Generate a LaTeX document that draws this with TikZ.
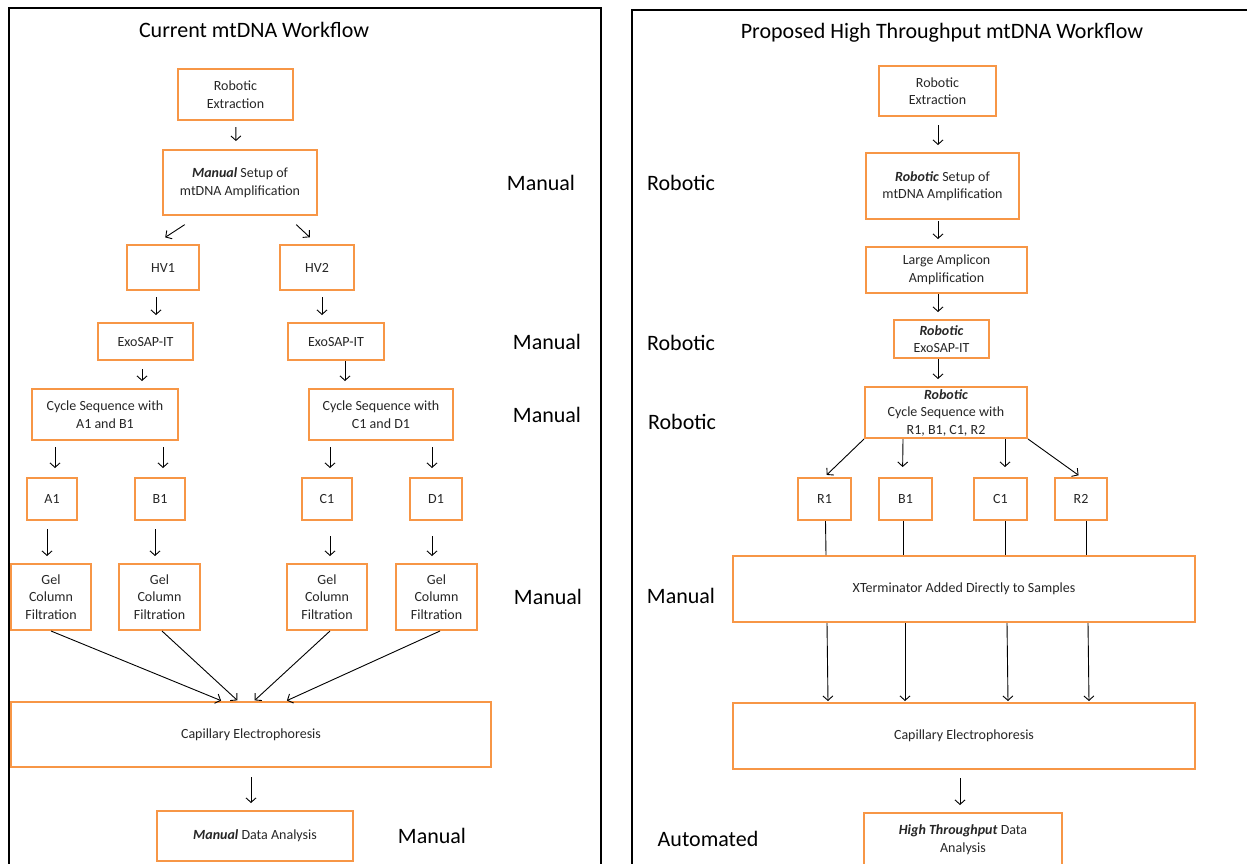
\documentclass[tikz,border=0pt]{standalone}
\usepackage{fontspec}
\setmainfont{Carlito}
\usetikzlibrary{arrows.meta}
\definecolor{boxorange}{RGB}{247,150,70}

\begin{document}
\begin{tikzpicture}[x=1pt, y=-1pt,
    box/.style={draw=boxorange, line width=2pt, align=center, inner sep=0pt,
        font=\fontsize{14}{17.5}\selectfont, text=black!85},
    arr/.style={->, line width=0.9pt, >={Straight Barb[length=4.5pt,width=10pt]},
        shorten <=6pt, shorten >=7pt},
    link/.style={line width=0.9pt},
    side/.style={font=\fontsize{22}{26}\selectfont},
    heading/.style={font=\fontsize{22}{26}\selectfont}]

    \useasboundingbox (0, 0) rectangle (1247, 863);
    \clip (0, 0) rectangle (1247, 863);

    % Dessiner les cadres
    \draw[line width=1.5pt] (9, 880) -- (9, 8) -- (601, 8) -- (601, 880);
    \draw[line width=1.5pt] (632, 880) -- (632, 10) -- (1260, 10);

    \node[heading] (titleL) at (254, 30) {Current mtDNA Workflow};
    \node[heading] (titleR) at (942, 33) {Proposed High Throughput mtDNA Workflow};

    % Flux actuel
    \node[box, minimum width=115, minimum height=51] (ext) at (235.5, 94.5) {Robotic\\Extraction};
    \node[box, minimum width=154, minimum height=65] (setup) at (240, 182.5) {\textbf{\textit{Manual}} Setup of\\mtDNA Amplification};
    \node[box, minimum width=72, minimum height=45] (hv1) at (163, 267.5) {HV1};
    \node[box, minimum width=74, minimum height=45] (hv2) at (317, 267.5) {HV2};
    \node[box, minimum width=95, minimum height=37] (exoL) at (145.5, 341.5) {ExoSAP-IT};
    \node[box, minimum width=96, minimum height=37] (exoR) at (336, 341.5) {ExoSAP-IT};
    \node[box, minimum width=146, minimum height=51] (cycL) at (105, 414.5) {Cycle Sequence with\\A1 and B1};
    \node[box, minimum width=144, minimum height=51] (cycR) at (381, 414.5) {Cycle Sequence with\\C1 and D1};
    \node[box, minimum width=50, minimum height=42] (a1) at (52, 499) {A1};
    \node[box, minimum width=50, minimum height=42] (b1) at (160, 499) {B1};
    \node[box, minimum width=50, minimum height=42] (c1) at (327, 499) {C1};
    \node[box, minimum width=52, minimum height=42] (d1) at (436, 499) {D1};
    \node[box, minimum width=80, minimum height=66] (gelA) at (51, 597) {Gel\\Column\\Filtration};
    \node[box, minimum width=81, minimum height=66] (gelB) at (159.5, 597) {Gel\\Column\\Filtration};
    \node[box, minimum width=80, minimum height=66] (gelC) at (327, 597) {Gel\\Column\\Filtration};
    \node[box, minimum width=81, minimum height=66] (gelD) at (436.5, 597) {Gel\\Column\\Filtration};
    \node[box, minimum width=480, minimum height=65] (ceL) at (251, 734.5) {Capillary Electrophoresis};
    \node[box, minimum width=196, minimum height=50] (dataL) at (255, 836) {\textbf{\textit{Manual}} Data Analysis};

    \node[side] (manA) at (541, 183) {Manual};
    \node[side] (manB) at (547, 342) {Manual};
    \node[side] (manC) at (547, 415) {Manual};
    \node[side] (manD) at (548, 597) {Manual};
    \node[side] (manE) at (432, 836) {Manual};

    \draw[arr, shorten >=8pt] (ext) -- ([xshift=-4]setup.north);
    \draw[arr, shorten <=15.8pt, shorten >=12.2pt] ([xshift=-42]setup.south) -- ([xshift=-8]hv1.north);
    \draw[arr, shorten <=12.7pt, shorten >=9.9pt] ([xshift=47]setup.south) -- (hv2.north);
    \draw[arr] ([xshift=-7]hv1.south) -- ([xshift=10.5]exoL.north);
    \draw[arr] ([xshift=5]hv2.south) -- ([xshift=-14]exoR.north);
    \draw[arr, shorten <=8pt] ([xshift=-3.5]exoL.south) -- ([xshift=37]cycL.north);
    \draw[arr, shorten <=0pt] ([xshift=9]exoR.south) -- ([xshift=-36]cycR.north);
    \draw[arr, shorten >=9pt] ([xshift=-50]cycL.south) -- ([xshift=3]a1.north);
    \draw[arr, shorten >=9pt] ([xshift=58]cycL.south) -- ([xshift=3]b1.north);
    \draw[arr, shorten >=9pt] ([xshift=-51]cycR.south) -- ([xshift=3]c1.north);
    \draw[arr, shorten >=9pt] ([xshift=51]cycR.south) -- ([xshift=-4]d1.north);
    \draw[arr, shorten <=8pt] ([xshift=-5]a1.south) -- ([xshift=-4]gelA.north);
    \draw[arr, shorten <=8pt] ([xshift=-5]b1.south) -- ([xshift=-4.5]gelB.north);
    \draw[arr, shorten <=15pt] ([xshift=3]c1.south) -- ([xshift=3]gelC.north);
    \draw[arr, shorten <=15pt] ([xshift=-4]d1.south) -- ([xshift=-4.5]gelD.north);

    % Fleches vers l'electrophorese
    \draw[arr, shorten <=0pt, shorten >=1pt] (gelA.south) -- ([xshift=-29]ceL.north);
    \draw[arr, shorten <=0pt, shorten >=1pt] ([xshift=2.5]gelB.south) -- ([xshift=-13]ceL.north);
    \draw[arr, shorten <=0pt, shorten >=1pt] ([xshift=3]gelC.south) -- ([xshift=3]ceL.north);
    \draw[arr, shorten <=0pt, shorten >=1pt] ([xshift=3.5]gelD.south) -- ([xshift=35]ceL.north);
    \draw[arr, shorten <=9pt] (ceL.south) -- ([xshift=-4]dataL.north);

    % Flux propose
    \node[box, minimum width=117, minimum height=50] (extR) at (937.5, 91) {Robotic\\Extraction};
    \node[box, minimum width=153, minimum height=66] (setupR) at (942.5, 186) {\textbf{\textit{Robotic}} Setup of\\mtDNA Amplification};
    \node[box, minimum width=161, minimum height=46] (large) at (946.5, 270) {Large Amplicon\\Amplification};
    \node[box, minimum width=95, minimum height=38] (exoP) at (941.5, 339) {\textbf{\textit{Robotic}}\\ExoSAP-IT};
    \node[box, minimum width=162, minimum height=51] (cycP) at (946, 412.5) {\textbf{\textit{Robotic}}\\Cycle Sequence with\\R1, B1, C1, R2};
    \node[box, minimum width=53, minimum height=42] (r1) at (824.5, 499) {R1};
    \node[box, minimum width=53, minimum height=42] (b1R) at (905.5, 499) {B1};
    \node[box, minimum width=53, minimum height=42] (c1R) at (1000.5, 499) {C1};
    \node[box, minimum width=52, minimum height=42] (r2) at (1081, 499) {R2};
    \node[box, minimum width=462, minimum height=66] (xterm) at (964, 589) {XTerminator Added Directly to Samples};
    \node[box, minimum width=462, minimum height=66] (ceR) at (964, 736) {Capillary Electrophoresis};
    \node[box, minimum width=198, minimum height=53] (dataR) at (963, 839.5) {\textbf{\textit{High Throughput}} Data\\Analysis};

    \node[side] (robA) at (681, 183) {Robotic};
    \node[side] (robB) at (681, 343) {Robotic};
    \node[side] (robC) at (682, 422) {Robotic};
    \node[side] (manF) at (681, 596) {Manual};
    \node[side] (auto) at (708, 839) {Automated};

    \draw[arr, shorten <=8pt] ([xshift=0.5]extR.south) -- ([xshift=-4.5]setupR.north);
    \draw[arr, shorten <=1pt] ([xshift=-4.5]setupR.south) -- ([xshift=-8.5]large.north);
    \draw[arr, shorten <=0pt] ([xshift=-8.5]large.south) -- ([xshift=-3.5]exoP.north);
    \draw[arr, shorten <=0pt] ([xshift=-3.5]exoP.south) -- ([xshift=-8]cycP.north);
    \draw[arr, shorten <=0pt, shorten >=3pt] (cycP.south west) -- (r1.north);
    \draw[arr, shorten <=0pt, shorten >=10pt] ([xshift=-43]cycP.south) -- ([xshift=-3]b1R.north);
    \draw[arr, shorten <=0pt, shorten >=10pt] ([xshift=59]cycP.south) -- ([xshift=4.5]c1R.north);
    \draw[arr, shorten <=0pt, shorten >=3pt] (cycP.south east) -- (r2.north);

    \draw[link] ([xshift=1]r1.south) -- ([xshift=-138]xterm.north);
    \draw[link] ([xshift=-2.5]b1R.south) -- ([xshift=-61]xterm.north);
    \draw[link] ([xshift=4.5]c1R.south) -- ([xshift=41]xterm.north);
    \draw[link] ([xshift=5]r2.south) -- ([xshift=122]xterm.north);

    \draw[arr, shorten <=0pt, shorten >=1pt] ([xshift=-137]xterm.south) -- ([xshift=-136]ceR.north);
    \draw[arr, shorten <=0pt, shorten >=1pt] ([xshift=-59]xterm.south) -- ([xshift=-59]ceR.north);
    \draw[arr, shorten <=0pt, shorten >=1pt] ([xshift=43]xterm.south) -- ([xshift=44]ceR.north);
    \draw[arr, shorten <=0pt, shorten >=1pt] ([xshift=124]xterm.south) -- ([xshift=125]ceR.north);
    \draw[arr, shorten <=8pt] ([xshift=-4]ceR.south) -- ([xshift=-3]dataR.north);

\end{tikzpicture}
\end{document}
